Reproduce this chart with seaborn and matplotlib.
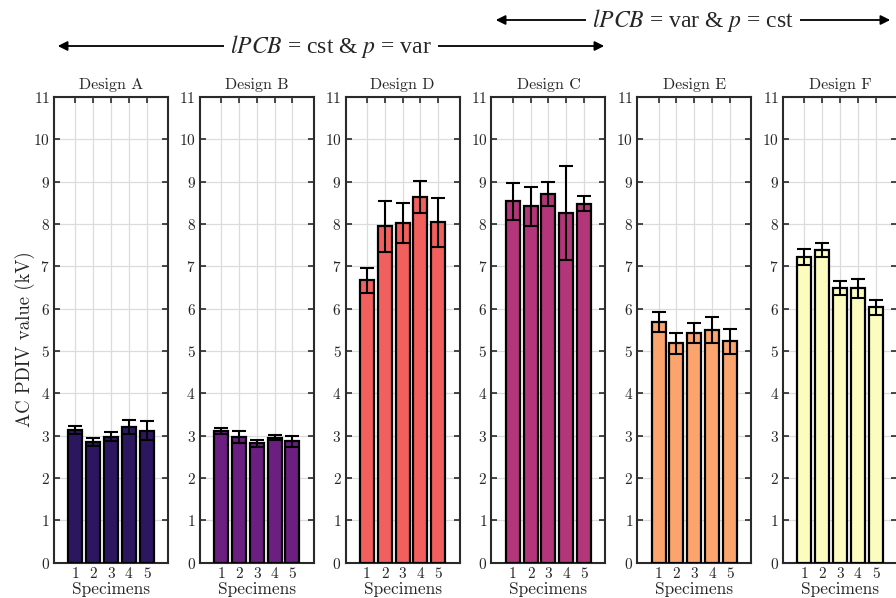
import numpy as np
import pandas as pd
import matplotlib
matplotlib.use("Agg")
import matplotlib.pyplot as plt
from matplotlib.patches import FancyArrowPatch
import seaborn as sns

# Panel order, titles and fill colours
designs = ["Design A", "Design B", "Design D", "Design C", "Design E", "Design F"]
colors = ["#2d1660", "#6b1f80", "#f1605d", "#b3367a", "#fca46e", "#fcfcbf"]
specimens = ["1", "2", "3", "4", "5"]

# Mean AC PDIV (kV) per specimen
mean_a = [3.14, 2.85, 2.98, 3.21, 3.12]
mean_b = [3.11, 2.97, 2.82, 2.95, 2.87]
mean_d = [6.67, 7.95, 8.02, 8.63, 8.04]
mean_c = [8.54, 8.42, 8.71, 8.26, 8.48]
mean_e = [5.68, 5.18, 5.42, 5.50, 5.23]
mean_f = [7.22, 7.38, 6.49, 6.48, 6.03]

# Standard deviation per specimen
err_a = [0.09, 0.09, 0.10, 0.17, 0.23]
err_b = [0.07, 0.15, 0.08, 0.06, 0.13]
err_d = [0.30, 0.60, 0.47, 0.38, 0.58]
err_c = [0.44, 0.46, 0.28, 1.10, 0.17]
err_e = [0.23, 0.25, 0.24, 0.31, 0.30]
err_f = [0.18, 0.16, 0.16, 0.22, 0.18]

means = [mean_a, mean_b, mean_d, mean_c, mean_e, mean_f]
errors = [err_a, err_b, err_d, err_c, err_e, err_f]

sns.set_style("ticks")
plt.rcParams["font.family"] = ["cmr10", "DejaVu Serif"]
plt.rcParams["mathtext.fontset"] = "cm"
plt.rcParams["axes.unicode_minus"] = False
plt.rcParams["axes.formatter.use_mathtext"] = True

W, H = 896, 598
fig = plt.figure(figsize=(W / 100, H / 100), dpi=100)

ax_w = 114 / W
ax_h = (562.7 - 97) / H
ax_bottom = 1 - 562.7 / H
step = 145.8

spine_col = "#2a2a2a"
for i, (title, col, m, e) in enumerate(zip(designs, colors, means, errors)):
    left = (54 + i * step) / W
    ax = fig.add_axes([left, ax_bottom, ax_w, ax_h])
    df = pd.DataFrame({"Specimen": specimens, "PDIV": m})
    sns.barplot(data=df, x="Specimen", y="PDIV", color=col, saturation=1,
                width=0.78, edgecolor="black", linewidth=1.6,
                errorbar=None, ax=ax, zorder=3)
    ax.errorbar(np.arange(len(specimens)), m, yerr=e, fmt="none",
                ecolor="black", elinewidth=1.5, capsize=5, capthick=1.5,
                zorder=4)
    ax.set_xlim(-1.2, 5.2)
    ax.set_ylim(0, 11)
    ax.set_yticks(range(0, 12))
    ax.grid(True, color="#dcdcdc", linewidth=0.9, zorder=0)
    ax.set_axisbelow(True)
    ax.tick_params(direction="in", length=4, width=1.2, top=True, right=True,
                   labelsize=11, color=spine_col, pad=3)
    for s in ax.spines.values():
        s.set_color(spine_col)
        s.set_linewidth(1.5)
        s.set_visible(True)
    ax.set_title(title, fontsize=11.5, pad=6)
    ax.set_xlabel("Specimens", fontsize=12.5, labelpad=1)
    if i == 0:
        ax.set_ylabel("AC PDIV value (kV)", fontsize=13.5)
        ax.yaxis.set_label_coords(-0.17, 0.48)
    else:
        ax.set_ylabel("")


def span_arrow(x0, x1, y, label):
    arr = FancyArrowPatch((x0 / W, 1 - y / H), (x1 / W, 1 - y / H),
                          transform=fig.transFigure, arrowstyle="<|-|>",
                          mutation_scale=14, lw=1.3, color="black")
    fig.add_artist(arr)
    fig.text((x0 + x1) / 2 / W, 1 - y / H, label, ha="center", va="center",
             fontsize=17, family=["Liberation Serif"],
             math_fontfamily="stix",
             bbox=dict(facecolor="white", edgecolor="none", pad=4))


span_arrow(55, 607, 46, r"$lPCB$ = cst & $p$ = var")
span_arrow(493, 893, 20, r"$lPCB$ = var & $p$ = cst")

fig.savefig("out.png", dpi=100)
